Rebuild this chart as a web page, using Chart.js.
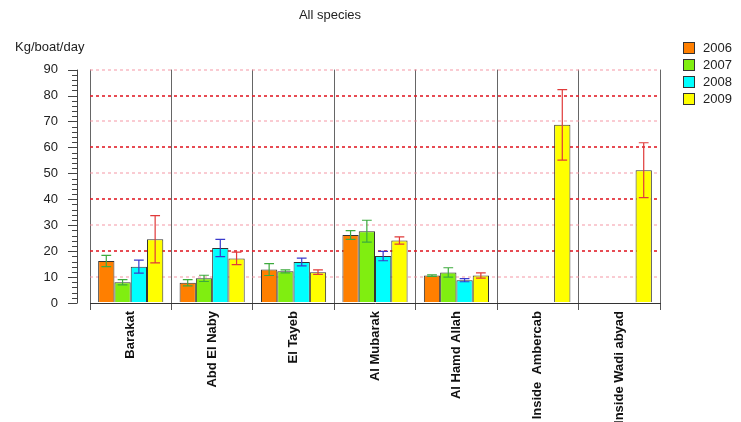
<!DOCTYPE html>
<html>
<head>
<meta charset="utf-8">
<script src="https://cdn.jsdelivr.net/npm/chart.js@4"></script>
<style>
    body { margin: 0; background: #fff; }
    #wrap { width: 741px; height: 422px; }
</style>
</head>
<body>
<div id="wrap"><canvas id="species_chart"></canvas></div>
<script>
// data
const categories = ['Barakat', 'Abd El Naby', 'El Tayeb', 'Al Mubarak', 'Al Hamd Allah', 'Inside  Ambercab', 'Inside Wadi abyad'];
const years = ['2006', '2007', '2008', '2009'];

const catch2006 = [16.2, 7.8, 12.9, 26.2, 10.6, null, null];
const catch2007 = [8.0, 9.5, 12.2, 27.7, 11.8, null, null];
const catch2008 = [14.0, 21.2, 15.8, 18.1, 8.8, null, null];
const catch2009 = [24.6, 17.2, 11.9, 24.1, 10.6, 68.7, 51.2];

const err2006 = [2.2, 1.2, 2.3, 1.7, 0.3, null, null];
const err2007 = [1.0, 1.2, 0.6, 4.2, 1.8, null, null];
const err2008 = [2.5, 3.3, 1.5, 1.8, 0.6, null, null];
const err2009 = [9.1, 2.4, 0.9, 1.4, 1.0, 13.6, 10.6];

//config color
const barColors = ['#FF7F00', '#80EE10', '#00FFFF', '#FFFF00'];
const errColors = ['#3DAA3D', '#3DAA3D', '#3A3ACC', '#E03A3A'];

const values = [catch2006, catch2007, catch2008, catch2009];
const errors = [err2006, err2007, err2008, err2009];

// error bars, drawn from the y scale
const errorBars = {
    id: 'errorBars',
    afterDatasetsDraw(chart) {
        const ctx = chart.ctx;
        const y = chart.scales.y;
        chart.data.datasets.forEach((ds, i) => {
            const meta = chart.getDatasetMeta(i);
            meta.data.forEach((bar, j) => {
                const v = ds.data[j];
                const e = ds.errors[j];
                if (v == null || e == null) return;
                const top = y.getPixelForValue(v + e);
                const bot = y.getPixelForValue(v - e);
                const half = bar.width * 0.3;
                ctx.save();
                ctx.strokeStyle = ds.errorColor;
                ctx.lineWidth = 1.2;
                ctx.beginPath();
                ctx.moveTo(bar.x, top); ctx.lineTo(bar.x, bot);
                ctx.moveTo(bar.x - half, top); ctx.lineTo(bar.x + half, top);
                ctx.moveTo(bar.x - half, bot); ctx.lineTo(bar.x + half, bot);
                ctx.stroke();
                ctx.restore();
            });
        });
    }
};

// y axis line with minor ticks, axis label and legend
const extras = {
    id: 'extras',
    afterDraw(chart) {
        const ctx = chart.ctx;
        const y = chart.scales.y;
        const area = chart.chartArea;
        const ax = area.left - 13;
        ctx.save();
        ctx.strokeStyle = '#444';
        ctx.lineWidth = 1;
        ctx.beginPath();
        ctx.moveTo(ax + 0.5, y.getPixelForValue(90));
        ctx.lineTo(ax + 0.5, y.getPixelForValue(0));
        for (let v = 0; v <= 90; v += 2) {
            const py = Math.round(y.getPixelForValue(v)) + 0.5;
            const len = v % 10 === 0 ? 9 : 5;
            ctx.moveTo(ax - len, py);
            ctx.lineTo(ax + 0.5, py);
        }
        ctx.stroke();

        ctx.fillStyle = '#222';
        ctx.font = '13px "Liberation Sans", Arial, sans-serif';
        ctx.textAlign = 'left';
        ctx.textBaseline = 'middle';
        ctx.fillText('Kg/boat/day', 15, 47);

        years.forEach((yr, i) => {
            const by = 42 + i * 17;
            ctx.fillStyle = barColors[i];
            ctx.fillRect(683, by, 12, 12);
            ctx.strokeStyle = '#333';
            ctx.strokeRect(683.5, by + 0.5, 11, 11);
            ctx.fillStyle = '#222';
            ctx.fillText(yr, 703, by + 6);
        });
        ctx.restore();
    }
};

function initSpeciesChart() {
    const ctx = document.getElementById('species_chart').getContext('2d');
    const datasets = years.map((yr, i) => ({
        label: yr,
        data: values[i],
        errors: errors[i],
        errorColor: errColors[i],
        backgroundColor: barColors[i],
        borderColor: '#333',
        borderWidth: 1,
        categoryPercentage: 0.8,
        barPercentage: 1.0
    }));

    new Chart(ctx, {
        type: 'bar',
        data: {
            labels: categories,
            datasets: datasets
        },
        options: {
            responsive: true,
            maintainAspectRatio: false,
            animation: false,
            layout: {
                padding: { left: 0, right: 81, top: 0, bottom: 0 }
            },
            scales: {
                x: {
                    afterFit: scale => { scale.height = 119; },
                    grid: {
                        offset: true,
                        color: '#666',
                        lineWidth: 1,
                        drawTicks: true,
                        tickLength: 7,
                        tickColor: '#555'
                    },
                    border: { display: true, color: '#333', width: 1 },
                    ticks: {
                        minRotation: 90,
                        maxRotation: 90,
                        autoSkip: false,
                        padding: 1,
                        color: '#111',
                        font: { family: '"Liberation Sans", Arial, sans-serif', size: 13, weight: 'bold' }
                    }
                },
                y: {
                    min: 0,
                    max: 90,
                    afterFit: scale => { scale.width = 90; },
                    border: { display: false, dash: [3, 3] },
                    grid: {
                        drawTicks: false,
                        color: c => {
                            const v = Math.round(c.tick.value);
                            if (v === 0) return 'rgba(0,0,0,0)';
                            return v % 20 === 0 ? 'rgba(225,30,40,0.8)' : 'rgba(245,140,155,0.45)';
                        },
                        lineWidth: 2
                    },
                    ticks: {
                        stepSize: 10,
                        padding: 32,
                        color: '#222',
                        font: { family: '"Liberation Sans", Arial, sans-serif', size: 13 }
                    }
                }
            },
            plugins: {
                title: {
                    display: true,
                    text: 'All species',
                    color: '#222',
                    font: { family: '"Liberation Sans", Arial, sans-serif', size: 13, weight: 'normal' },
                    padding: { top: 8, bottom: 46 }
                },
                legend: { display: false },
                tooltip: { enabled: false }
            }
        },
        plugins: [errorBars, extras]
    });
}

initSpeciesChart();
</script>
</body>
</html>
